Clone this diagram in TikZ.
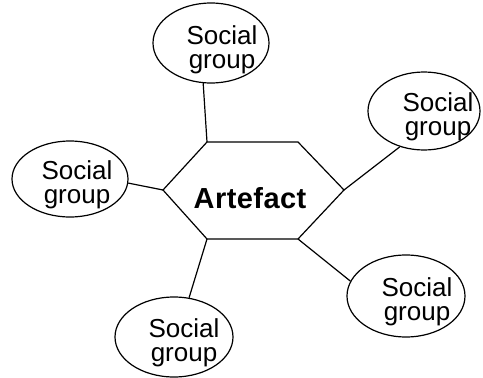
\documentclass[tikz,border=0pt]{standalone}
\usepackage{fontspec}
\setmainfont{Liberation Sans}
\usetikzlibrary{shapes.geometric}
\begin{document}
\begin{tikzpicture}[x=1pt,y=-1pt,
  grp/.style={draw,ellipse,line width=1.2pt,inner sep=0pt},
  lbl/.style={align=center,font=\fontsize{26}{24}\selectfont,inner sep=0pt},
  conn/.style={line width=1.2pt}]
\useasboundingbox (0,0) rectangle (483,378);
% hexagon vertices
\coordinate (hl) at (163,190);
\coordinate (htl) at (207,142);
\coordinate (htr) at (298,142);
\coordinate (hr) at (344,190);
\coordinate (hbr) at (298,239);
\coordinate (hbl) at (207,239);
\draw[conn,line join=miter] (hl) -- (htl) -- (htr) -- (hr) -- (hbr) -- (hbl) -- cycle;
\node[font=\bfseries\fontsize{29}{29}\selectfont\addfontfeature{LetterSpace=1.5},inner sep=0pt] (art) at (250,198) {Artefact};
% social groups
\node[grp,minimum width=116pt,minimum height=80pt] (gt) at (211,43) {};
\node[grp,minimum width=116pt,minimum height=76pt] (gl) at (70,179) {};
\node[grp,minimum width=112pt,minimum height=78pt] (gr) at (424,111) {};
\node[grp,minimum width=118pt,minimum height=82pt] (gbr) at (406,296) {};
\node[grp,minimum width=118pt,minimum height=80pt] (gbl) at (174,337) {};
\node[lbl] (tt) at (222,50) {Social\\group};
\node[lbl] (tl) at (77,185) {Social\\group};
\node[lbl] (tr) at (438,117) {Social\\group};
\node[lbl] (tbr) at (417,302) {Social\\group};
\node[lbl] (tbl) at (184,343) {Social\\group};
% connectors
\draw[conn] (gt.259) -- (htl);
\draw[conn] (gl.-4) -- (hl);
\draw[conn] (gr.236) -- (hr);
\draw[conn] (gbr.165) -- (hbr);
\draw[conn] (gbl.69) -- (hbl);
\end{tikzpicture}
\end{document}
